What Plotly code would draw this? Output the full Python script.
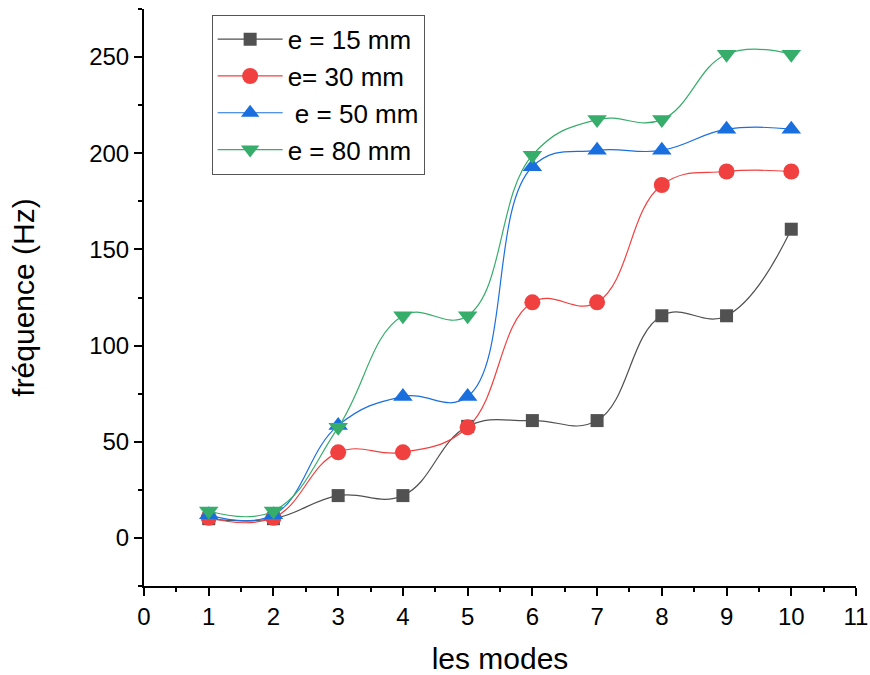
import plotly.graph_objects as go

modes = [1, 2, 3, 4, 5, 6, 7, 8, 9, 10]
freq_15 = [10, 10, 22, 22, 58, 61, 61, 115.5, 115.5, 160.5]
freq_30 = [10.5, 10.5, 44.5, 44.5, 57.5, 122.5, 122.5, 183.5, 190.5, 190.5]
freq_50 = [12, 12, 58.5, 73.5, 73.5, 193, 201.5, 201.5, 212.5, 212.5]
freq_80 = [14, 14, 57.5, 115.5, 115.5, 199, 217.5, 217.5, 251.5, 251.5]

series = [
    ("e = 15 mm", freq_15, "#515151", "square", 13),
    ("e= 30 mm", freq_30, "#F14040", "circle", 16),
    ("\u00a0e = 50 mm", freq_50, "#1A6FDF", "triangle-up", 17),
    ("e = 80 mm", freq_80, "#37AD6B", "triangle-down", 17),
]

FONT = "Liberation Sans, Arial"

fig = go.Figure()
for name, vals, color, symbol, size in series:
    fig.add_trace(go.Scatter(
        x=modes, y=vals, name=name, mode="lines+markers",
        line=dict(color=color, width=1.2, shape="spline", smoothing=1.2),
        marker=dict(symbol=symbol, size=size, color=color),
    ))

axis_common = dict(
    showline=True, linecolor="black", linewidth=2,
    ticks="outside", ticklen=8, tickwidth=2, tickcolor="black",
    showgrid=False, zeroline=False, mirror=False, automargin=False,
    tickfont=dict(family=FONT, size=24, color="black"),
)

fig.update_xaxes(
    range=[0, 11], tick0=0, dtick=1,
    minor=dict(ticks="outside", ticklen=4, tickwidth=2, tickcolor="black", dtick=0.5),
    title=dict(text="les modes", font=dict(family=FONT, size=30, color="black"), standoff=20),
    **axis_common,
)
fig.update_yaxes(
    range=[-25, 275], tick0=0, dtick=50,
    minor=dict(ticks="outside", ticklen=4, tickwidth=2, tickcolor="black", dtick=25),
    title=dict(text="fréquence (Hz)", font=dict(family=FONT, size=30, color="black"), standoff=46),
    **axis_common,
)

fig.update_layout(
    width=870, height=675,
    margin=dict(l=144, r=14, t=9, b=89),
    plot_bgcolor="white", paper_bgcolor="white",
    legend=dict(
        x=0.095, y=0.99, xanchor="left", yanchor="top",
        bordercolor="#555555", borderwidth=1, bgcolor="white",
        font=dict(family=FONT, size=26, color="black"),
        itemwidth=65, tracegroupgap=0,
    ),
)

fig.write_html("out.html")
